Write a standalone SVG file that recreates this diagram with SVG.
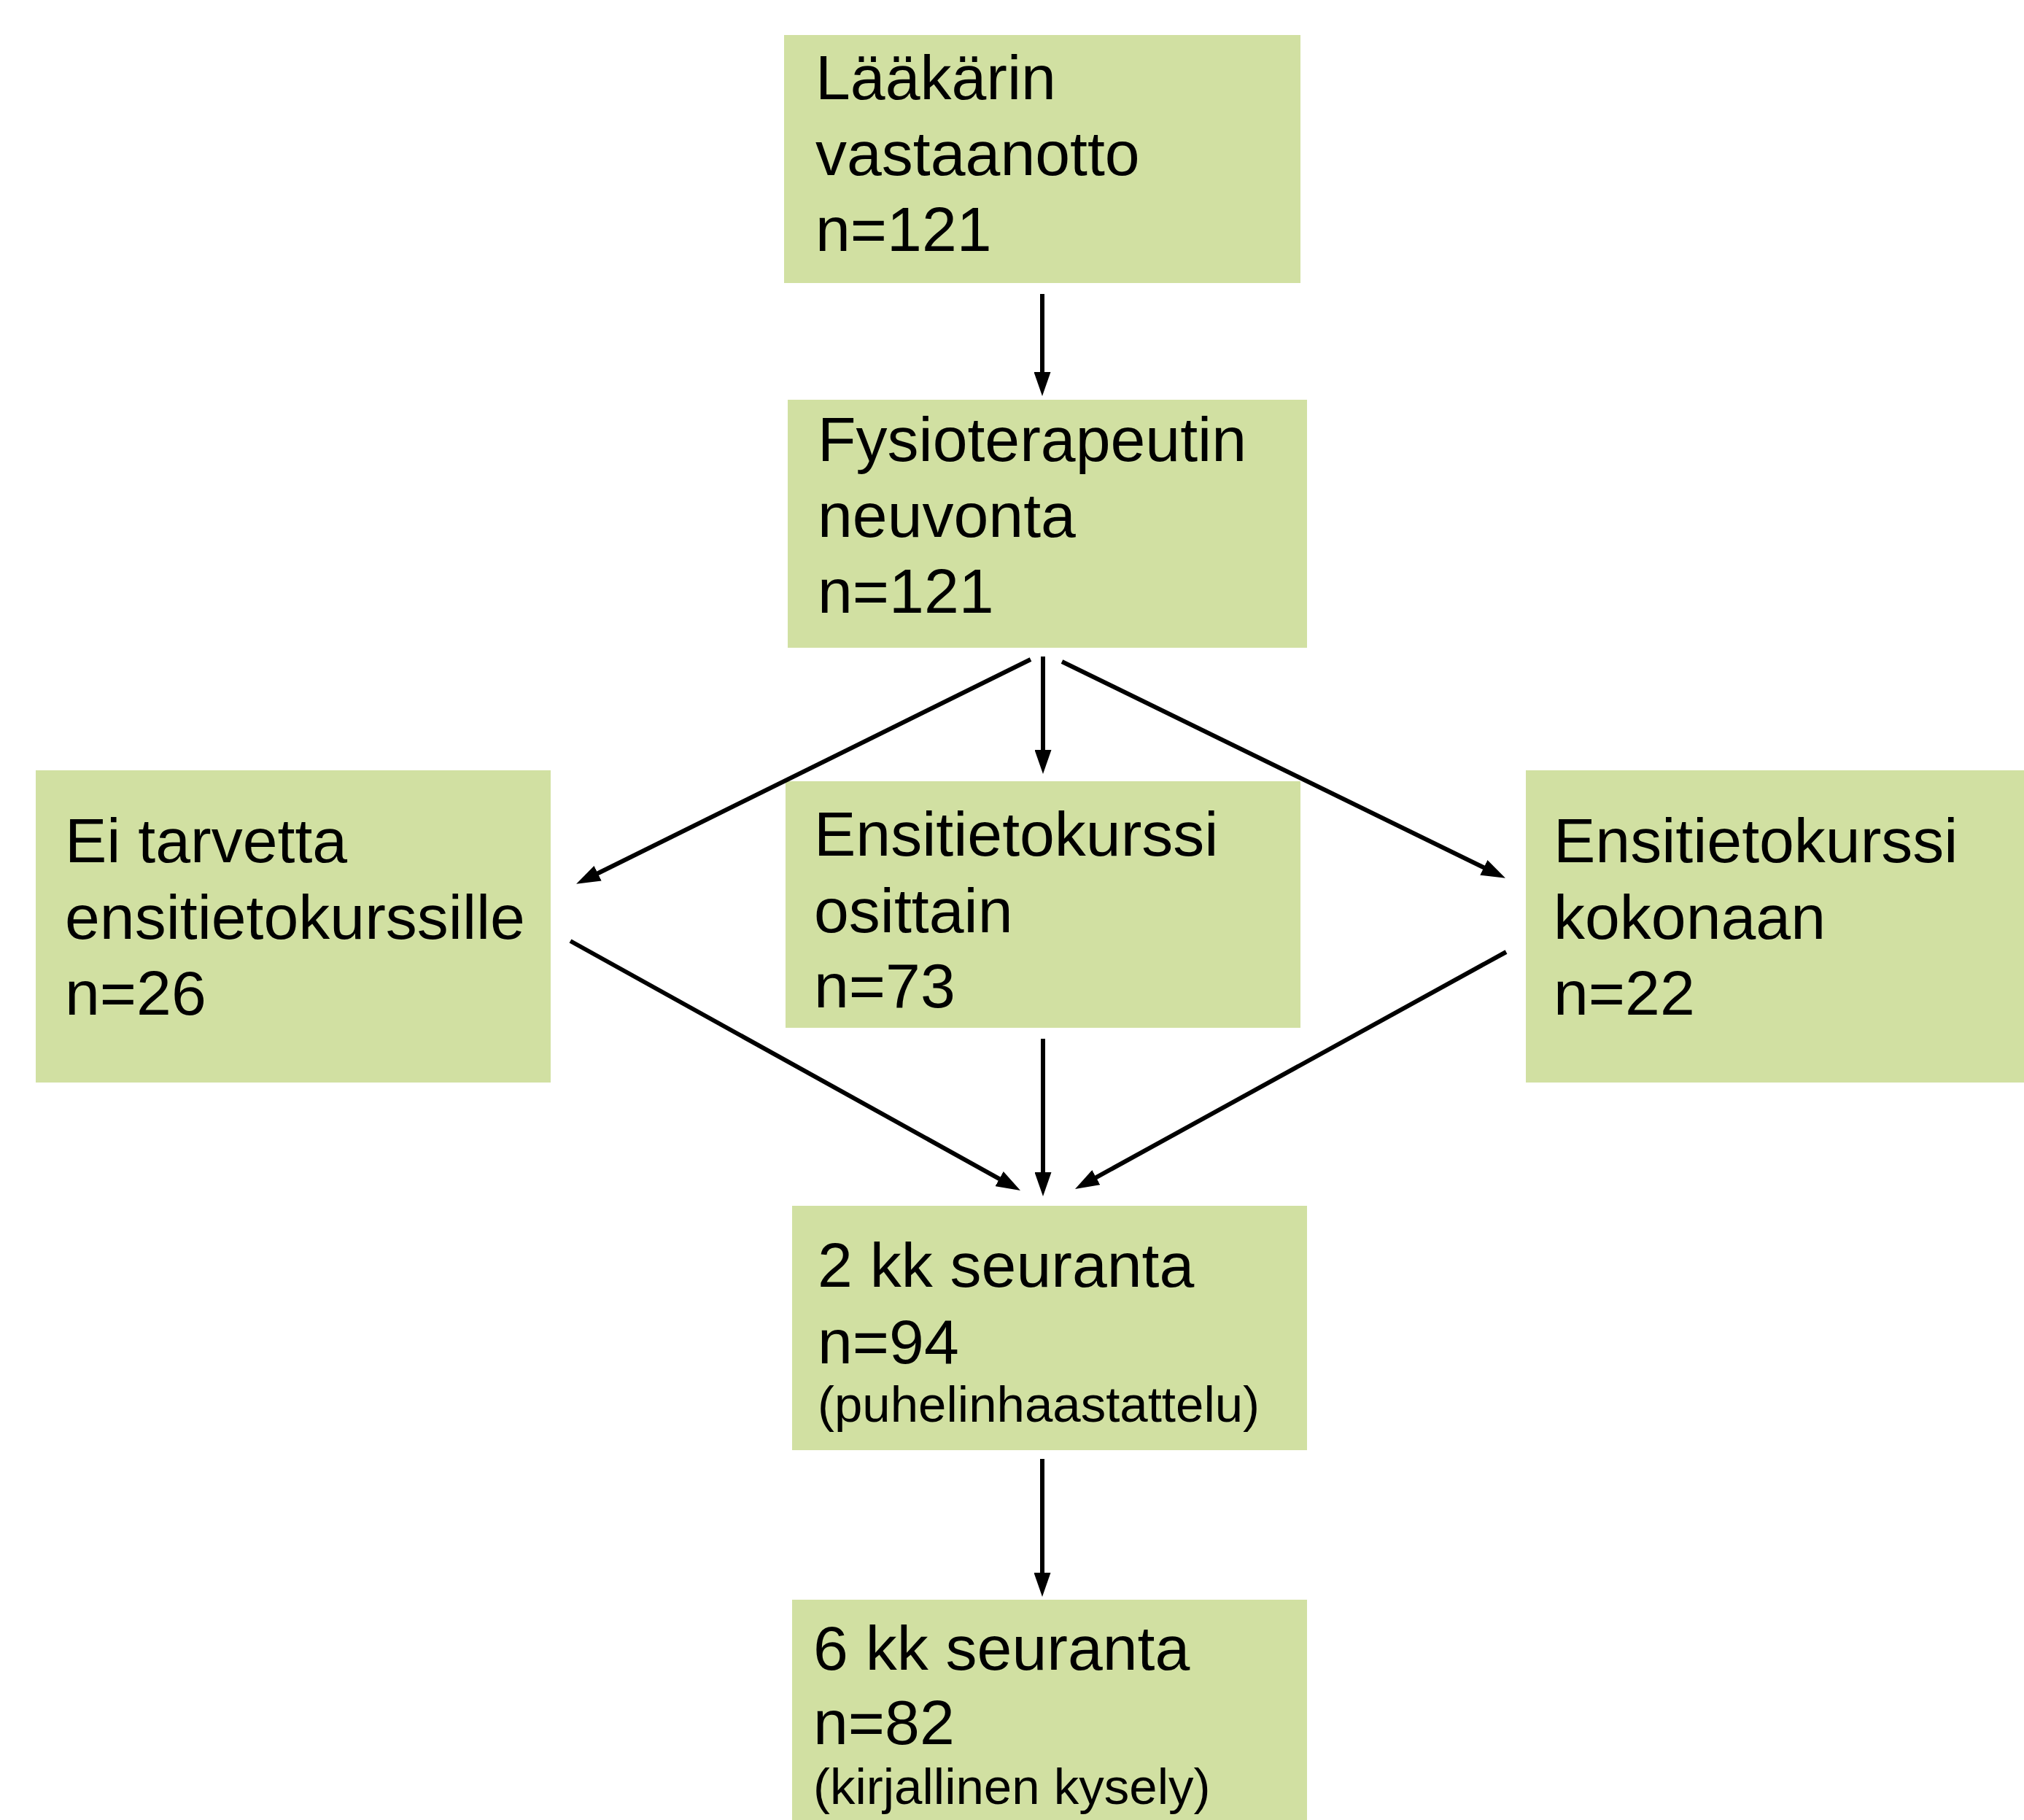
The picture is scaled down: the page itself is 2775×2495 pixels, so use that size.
<svg xmlns="http://www.w3.org/2000/svg" width="2775" height="2495" viewBox="0 0 2775 2495">
<style>
  .box { fill: #d1e0a2; }
  .t { font-family: "Liberation Sans", Arial, sans-serif; font-size: 86px; fill: #000; }
  .s { font-family: "Liberation Sans", Arial, sans-serif; font-size: 69px; fill: #000; }
  .c { stroke: #000; stroke-width: 6; fill: none; marker-end: url(#ah); }
</style>
<defs>
  <marker id="ah" markerUnits="userSpaceOnUse" markerWidth="33" markerHeight="23" viewBox="0 0 33 23" refX="13" refY="11.5" orient="auto">
    <path d="M0,0 L33,11.5 L0,23 z" fill="#000"/>
  </marker>
</defs>
<rect width="2775" height="2495" fill="#ffffff"/>

<g id="n1">
  <rect class="box" x="1075" y="48" width="708" height="340"/>
  <text class="t" x="1118" y="136">Lääkärin</text>
  <text class="t" x="1118" y="240">vastaanotto</text>
  <text class="t" x="1118" y="344">n=121</text>
</g>
<g id="n2">
  <rect class="box" x="1080" y="548" width="712" height="340"/>
  <text class="t" x="1121" y="632">Fysioterapeutin</text>
  <text class="t" x="1121" y="736">neuvonta</text>
  <text class="t" x="1121" y="840">n=121</text>
</g>
<g id="n3">
  <rect class="box" x="49" y="1056" width="706" height="428"/>
  <text class="t" x="89" y="1182">Ei tarvetta</text>
  <text class="t" x="89" y="1287">ensitietokurssille</text>
  <text class="t" x="89" y="1391">n=26</text>
</g>
<g id="n4">
  <rect class="box" x="1077" y="1071" width="706" height="338"/>
  <text class="t" x="1116" y="1173">Ensitietokurssi</text>
  <text class="t" x="1116" y="1278">osittain</text>
  <text class="t" x="1116" y="1381">n=73</text>
</g>
<g id="n5">
  <rect class="box" x="2092" y="1056" width="700" height="428"/>
  <text class="t" x="2130" y="1182">Ensitietokurssi</text>
  <text class="t" x="2130" y="1287">kokonaan</text>
  <text class="t" x="2130" y="1391">n=22</text>
</g>
<g id="n6">
  <rect class="box" x="1086" y="1653" width="706" height="335"/>
  <text class="t" x="1121" y="1764">2 kk seuranta</text>
  <text class="t" x="1121" y="1869">n=94</text>
  <text class="s" x="1121" y="1949">(puhelinhaastattelu)</text>
</g>
<g id="n7">
  <rect class="box" x="1086" y="2193" width="706" height="330"/>
  <text class="t" x="1115" y="2289">6 kk seuranta</text>
  <text class="t" x="1115" y="2391">n=82</text>
  <text class="s" x="1115" y="2473">(kirjallinen kysely)</text>
</g>

<g id="connectors">
  <line class="c" x1="1429" y1="403" x2="1429" y2="523"/>
  <line class="c" x1="1430" y1="900" x2="1430" y2="1041"/>
  <line class="c" x1="1413" y1="904" x2="808" y2="1203"/>
  <line class="c" x1="1456" y1="907" x2="2046" y2="1195"/>
  <line class="c" x1="782" y1="1290" x2="1381.5" y2="1622.3"/>
  <line class="c" x1="1430" y1="1424" x2="1430" y2="1620"/>
  <line class="c" x1="2065" y1="1305" x2="1491.5" y2="1620.4"/>
  <line class="c" x1="1429" y1="2000" x2="1429" y2="2169"/>
</g>
</svg>
